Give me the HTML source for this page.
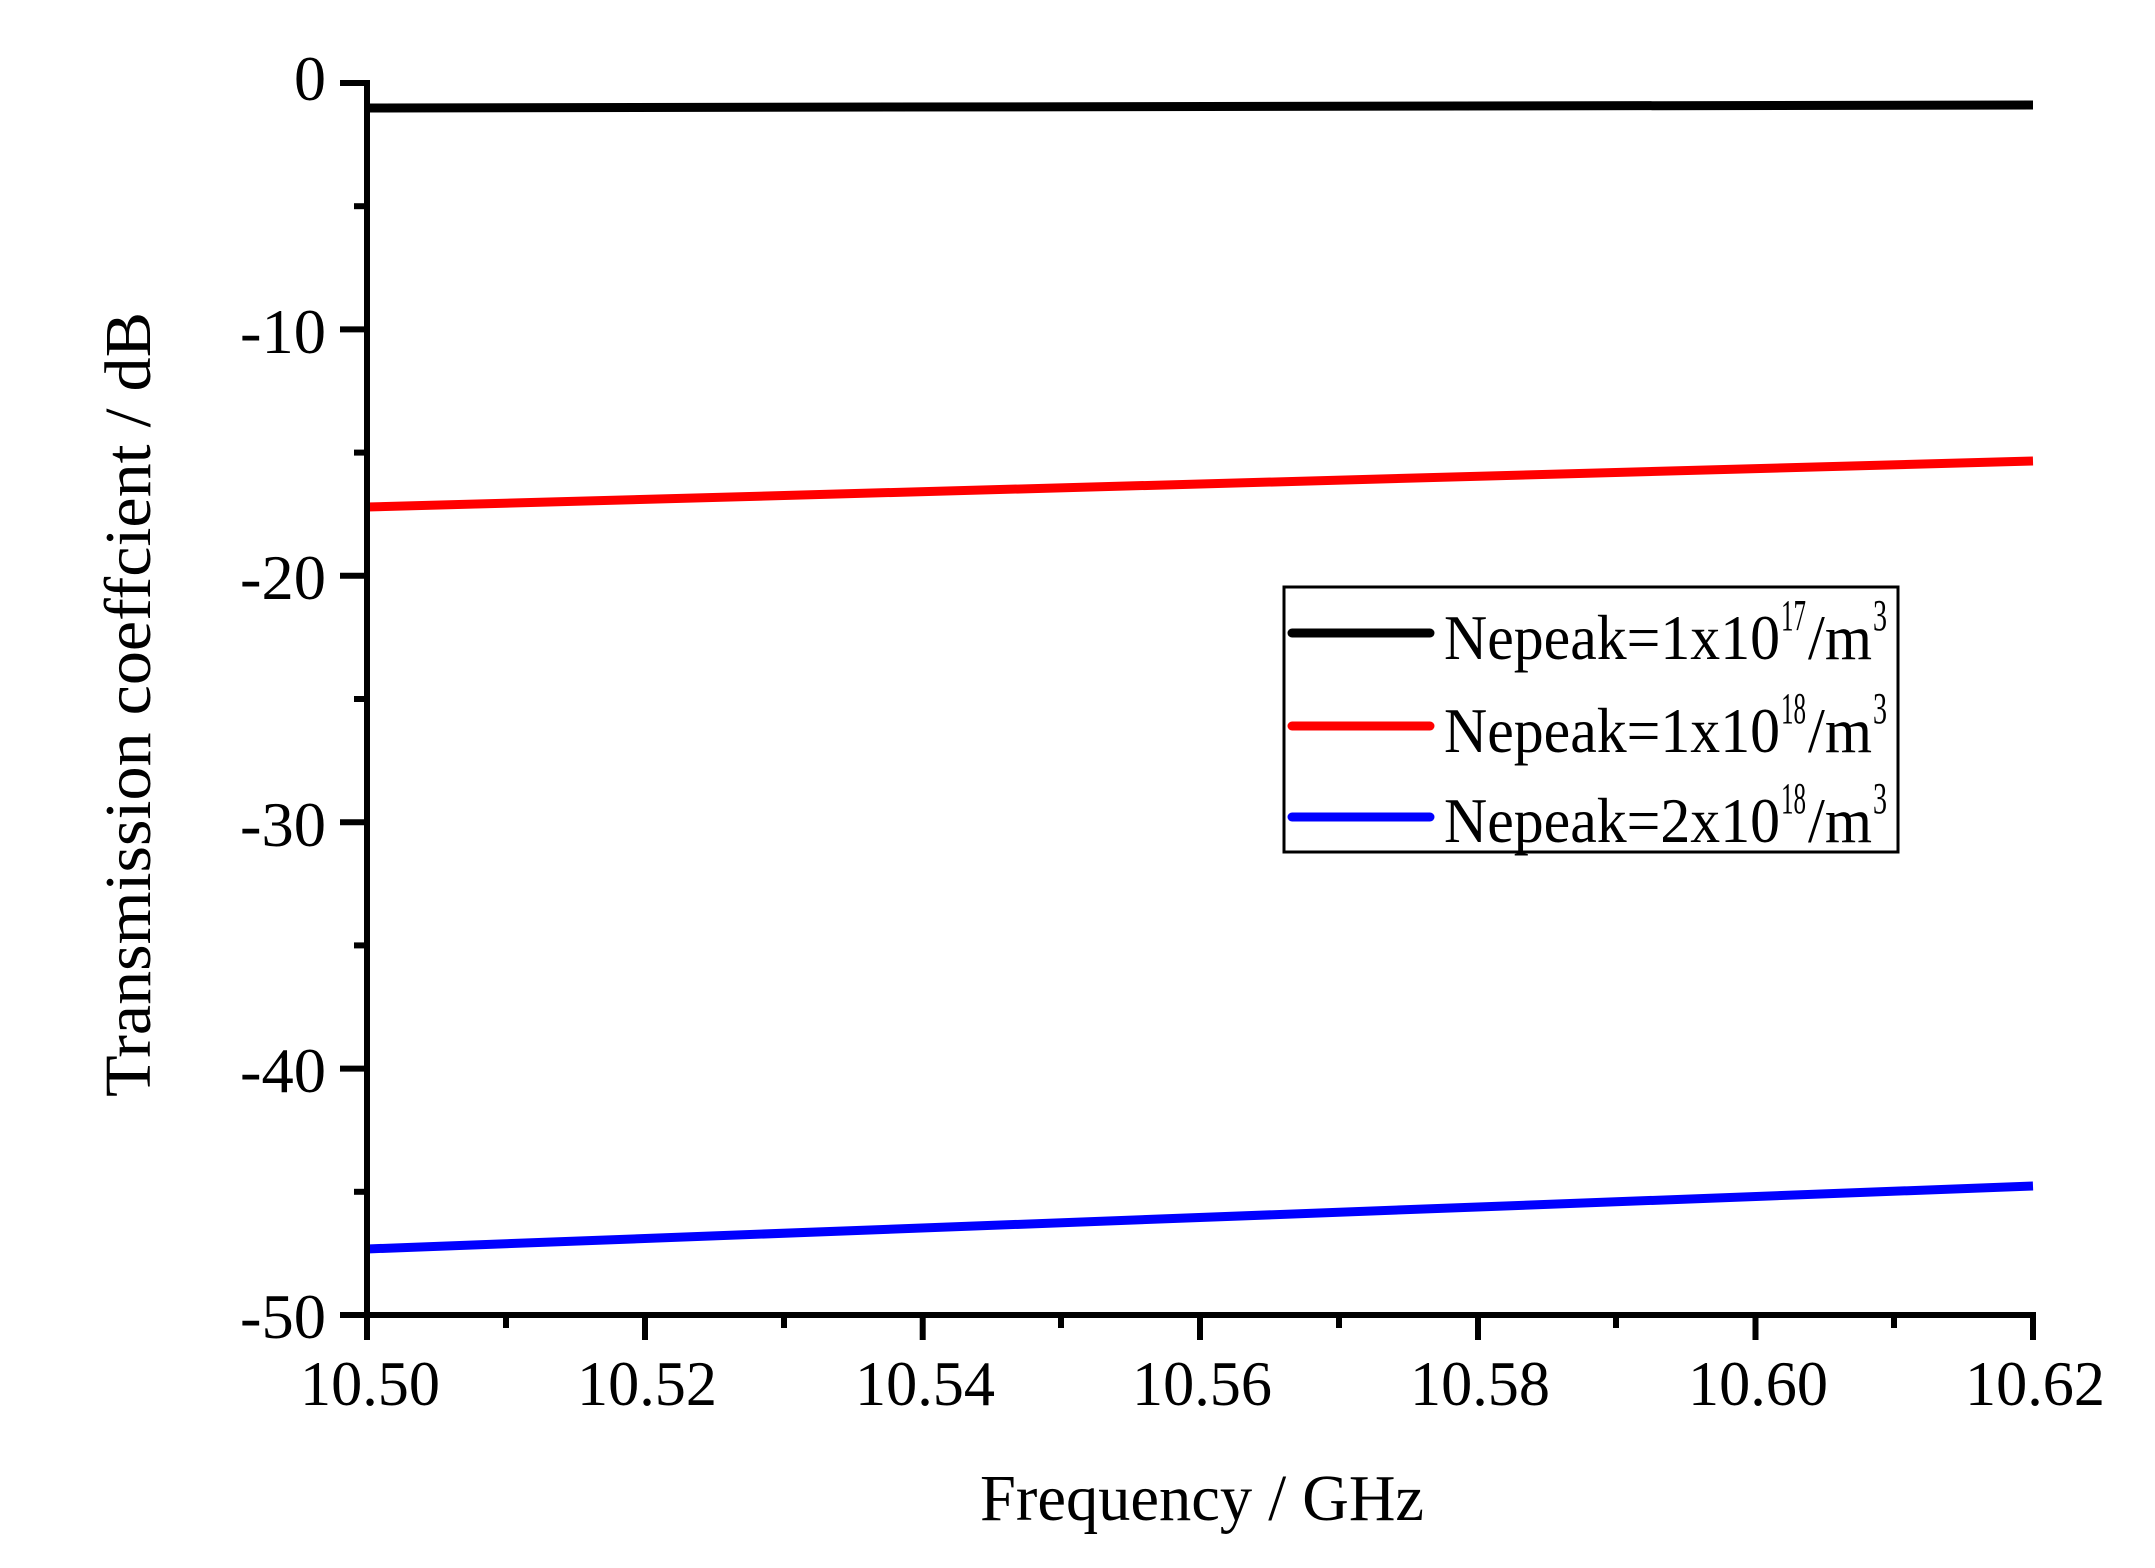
<!DOCTYPE html>
<html><head><meta charset="utf-8"><style>html,body{margin:0;padding:0;background:#fff}</style></head>
<body>
<svg width="2155" height="1563" viewBox="0 0 2155 1563" xmlns="http://www.w3.org/2000/svg" font-family="'Liberation Serif', serif" fill="#000">
<rect width="2155" height="1563" fill="#fff"/>
<g stroke-width="9" fill="none" stroke-linecap="butt">
<line x1="367" y1="108" x2="2033" y2="105" stroke="#000"/>
<line x1="367" y1="507" x2="2033" y2="461" stroke="#f00"/>
<line x1="367" y1="1249" x2="2033" y2="1186" stroke="#00f"/>
</g>
<g stroke="#000" stroke-width="6" fill="none">
<polyline points="340,83 367,83 367,1315 2033,1315 2033,1340"/>
<line x1="340" y1="329.4" x2="367" y2="329.4"/>
<line x1="340" y1="575.8" x2="367" y2="575.8"/>
<line x1="340" y1="822.2" x2="367" y2="822.2"/>
<line x1="340" y1="1068.6" x2="367" y2="1068.6"/>
<line x1="340" y1="1315" x2="367" y2="1315"/>
<line x1="354" y1="206.2" x2="367" y2="206.2"/>
<line x1="354" y1="452.6" x2="367" y2="452.6"/>
<line x1="354" y1="699" x2="367" y2="699"/>
<line x1="354" y1="945.4" x2="367" y2="945.4"/>
<line x1="354" y1="1191.8" x2="367" y2="1191.8"/>
<line x1="367" y1="1315" x2="367" y2="1340"/>
<line x1="645" y1="1315" x2="645" y2="1340"/>
<line x1="922.7" y1="1315" x2="922.7" y2="1340"/>
<line x1="1200" y1="1315" x2="1200" y2="1340"/>
<line x1="1478" y1="1315" x2="1478" y2="1340"/>
<line x1="1755.5" y1="1315" x2="1755.5" y2="1340"/>
<line x1="506" y1="1315" x2="506" y2="1328"/>
<line x1="784" y1="1315" x2="784" y2="1328"/>
<line x1="1061" y1="1315" x2="1061" y2="1328"/>
<line x1="1339" y1="1315" x2="1339" y2="1328"/>
<line x1="1616" y1="1315" x2="1616" y2="1328"/>
<line x1="1894" y1="1315" x2="1894" y2="1328"/>
</g>
<g font-size="64" text-anchor="end">
<text x="326" y="100">0</text>
<text x="326" y="353" textLength="86" lengthAdjust="spacingAndGlyphs">-10</text>
<text x="326" y="599" textLength="86" lengthAdjust="spacingAndGlyphs">-20</text>
<text x="326" y="846" textLength="86" lengthAdjust="spacingAndGlyphs">-30</text>
<text x="326" y="1092" textLength="86" lengthAdjust="spacingAndGlyphs">-40</text>
<text x="326" y="1338" textLength="86" lengthAdjust="spacingAndGlyphs">-50</text>
</g>
<g font-size="64">
<text x="300" y="1405" textLength="140" lengthAdjust="spacingAndGlyphs">10.50</text>
<text x="577" y="1405" textLength="140" lengthAdjust="spacingAndGlyphs">10.52</text>
<text x="855" y="1405" textLength="140" lengthAdjust="spacingAndGlyphs">10.54</text>
<text x="1132" y="1405" textLength="140" lengthAdjust="spacingAndGlyphs">10.56</text>
<text x="1410" y="1405" textLength="140" lengthAdjust="spacingAndGlyphs">10.58</text>
<text x="1688" y="1405" textLength="140" lengthAdjust="spacingAndGlyphs">10.60</text>
<text x="1965" y="1405" textLength="140" lengthAdjust="spacingAndGlyphs">10.62</text>
</g>
<text x="980" y="1520" font-size="66" textLength="444" lengthAdjust="spacingAndGlyphs">Frequency / GHz</text>
<text transform="translate(150,1097) rotate(-90)" font-size="66" textLength="785" lengthAdjust="spacingAndGlyphs">Transmission coeffcient  / dB</text>
<rect x="1284" y="587" width="614" height="265" fill="#fff" stroke="#000" stroke-width="3"/>
<g stroke-width="9" stroke-linecap="round">
<line x1="1292" y1="633" x2="1430" y2="633" stroke="#000"/>
<line x1="1292" y1="726" x2="1430" y2="726" stroke="#f00"/>
<line x1="1292" y1="817" x2="1430" y2="817" stroke="#00f"/>
</g>
<g font-size="64">
<text x="1444" y="659" textLength="336" lengthAdjust="spacingAndGlyphs">Nepeak=1x10</text>
<text x="1444" y="752" textLength="336" lengthAdjust="spacingAndGlyphs">Nepeak=1x10</text>
<text x="1444" y="842" textLength="336" lengthAdjust="spacingAndGlyphs">Nepeak=2x10</text>
<text x="1808" y="659" textLength="64" lengthAdjust="spacingAndGlyphs">/m</text>
<text x="1808" y="752" textLength="64" lengthAdjust="spacingAndGlyphs">/m</text>
<text x="1808" y="842" textLength="64" lengthAdjust="spacingAndGlyphs">/m</text>
</g>
<g font-size="44">
<text x="1781" y="630" textLength="25" lengthAdjust="spacingAndGlyphs">17</text>
<text x="1781" y="723" textLength="25" lengthAdjust="spacingAndGlyphs">18</text>
<text x="1781" y="813" textLength="25" lengthAdjust="spacingAndGlyphs">18</text>
<text x="1873" y="630" textLength="14" lengthAdjust="spacingAndGlyphs">3</text>
<text x="1873" y="723" textLength="14" lengthAdjust="spacingAndGlyphs">3</text>
<text x="1873" y="813" textLength="14" lengthAdjust="spacingAndGlyphs">3</text>
</g>
</svg>
</body></html>
